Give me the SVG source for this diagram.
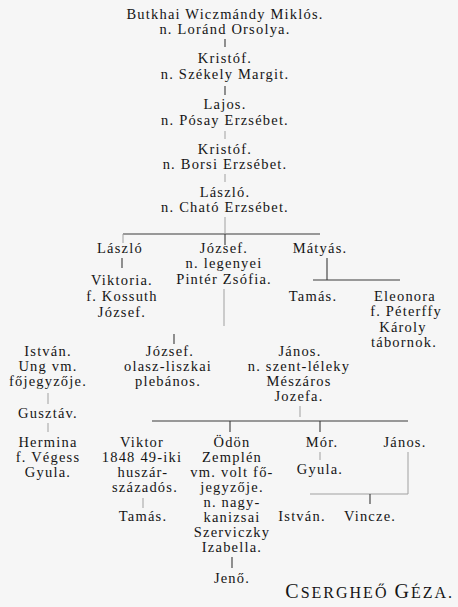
<svg xmlns="http://www.w3.org/2000/svg" width="458" height="607" viewBox="0 0 458 607">
<style>
text{font-family:"Liberation Serif","Times New Roman",serif;font-size:14.5px;letter-spacing:1.2px;fill:#151515;text-anchor:middle}
.c line{stroke:#3a3a3a;stroke-width:1.1}
.c .f{stroke:#a0a0a0;stroke-width:1}
.sig{font-size:16px;letter-spacing:2px;text-anchor:end}
.sig .big{font-size:20px}
</style>
<rect width="458" height="607" fill="#f6f6f6"/>
<g class="c" id="connectors">
<line x1="225" y1="39" x2="225" y2="47"/>
<line x1="225" y1="86" x2="225" y2="95"/>
<line class="f" x1="225" y1="131" x2="225" y2="139"/>
<line class="f" x1="225" y1="174" x2="225" y2="182"/>
<line class="f" x1="225" y1="217" x2="225" y2="233"/>
<line x1="123" y1="234" x2="320" y2="234"/>
<line x1="225" y1="234" x2="225" y2="245"/>
<line class="f" x1="123" y1="234" x2="123" y2="243"/>
<line x1="122" y1="258" x2="122" y2="268"/>
<line x1="327" y1="258" x2="327" y2="280"/>
<line x1="313" y1="280" x2="400" y2="280"/>
<line class="f" x1="224" y1="289" x2="224" y2="326"/>
<line x1="174" y1="334" x2="174" y2="344"/>
<line class="f" x1="48" y1="393" x2="48" y2="404"/>
<line class="f" x1="300" y1="406" x2="300" y2="417"/>
<line x1="152" y1="421" x2="408" y2="421"/>
<line x1="230" y1="421" x2="230" y2="432"/>
<line x1="320" y1="421" x2="320" y2="432"/>
<line class="f" x1="48" y1="423" x2="48" y2="432"/>
<line class="f" x1="320" y1="452" x2="320" y2="460"/>
<line class="f" x1="408" y1="452" x2="408" y2="494"/>
<line class="f" x1="310" y1="494" x2="408" y2="494"/>
<line x1="370" y1="494" x2="370" y2="504"/>
<line class="f" x1="143" y1="498" x2="143" y2="508"/>
<line x1="232" y1="557" x2="232" y2="568"/>
</g>
<g id="miklos"><text x="225" y="19">Butkhai Wiczmándy Miklós.</text><text x="225" y="34">n. Loránd Orsolya.</text></g>
<g id="kristof1"><text x="225" y="63">Kristóf.</text><text x="225" y="79">n. Székely Margit.</text></g>
<g id="lajos"><text x="225" y="109">Lajos.</text><text x="225" y="125">n. Pósay Erzsébet.</text></g>
<g id="kristof2"><text x="225" y="154">Kristóf.</text><text x="225" y="169">n. Borsi Erzsébet.</text></g>
<g id="laszlo1"><text x="225" y="197">László.</text><text x="225" y="212">n. Cható Erzsébet.</text></g>
<g id="laszlo2"><text x="120" y="253">László</text></g>
<g id="viktoria"><text x="122" y="285">Viktoria.</text><text x="122" y="301">f. Kossuth</text><text x="122" y="317">József.</text></g>
<g id="jozsef1"><text x="224" y="253">József.</text><text x="224" y="268">n. legenyei</text><text x="224" y="284">Pintér Zsófia.</text></g>
<g id="matyas"><text x="320" y="253">Mátyás.</text></g>
<g id="tamas1"><text x="313" y="301">Tamás.</text></g>
<g id="eleonora"><text x="405" y="301">Eleonora</text><text x="406" y="316">f. Péterffy</text><text x="403" y="332">Károly</text><text x="404" y="347">tábornok.</text></g>
<g id="istvan1"><text x="48" y="356">István.</text><text x="48" y="371">Ung vm.</text><text x="48" y="386">főjegyzője.</text></g>
<g id="gusztav"><text x="48" y="418">Gusztáv.</text></g>
<g id="hermina"><text x="48" y="447">Hermina</text><text x="48" y="462">f. Végess</text><text x="48" y="477">Gyula.</text></g>
<g id="jozsef2"><text x="170" y="356">József.</text><text x="168" y="371">olasz-liszkai</text><text x="168" y="386">plebános.</text></g>
<g id="janos1"><text x="300" y="356">János.</text><text x="299" y="371">n. szent-léleky</text><text x="299" y="386">Mészáros</text><text x="299" y="401">Jozefa.</text></g>
<g id="viktor"><text x="142" y="447">Viktor</text><text x="142" y="462">1848 49-iki</text><text x="143" y="477">huszár-</text><text x="145" y="492">századós.</text></g>
<g id="tamas2"><text x="143" y="521">Tamás.</text></g>
<g id="odon"><text x="232" y="447">Ödön</text><text x="232" y="462">Zemplén</text><text x="232" y="477">vm. volt fő-</text><text x="232" y="492">jegyzője.</text><text x="232" y="507">n. nagy-</text><text x="232" y="522">kanizsai</text><text x="232" y="537">Szerviczky</text><text x="232" y="552">Izabella.</text></g>
<g id="jeno"><text x="232" y="583">Jenő.</text></g>
<g id="mor"><text x="322" y="447">Mór.</text></g>
<g id="gyula2"><text x="320" y="474">Gyula.</text></g>
<g id="janos2"><text x="405" y="447">János.</text></g>
<g id="istvan2"><text x="302" y="521">István.</text></g>
<g id="vincze"><text x="370" y="521">Vincze.</text></g>
<text class="sig" x="454" y="598"><tspan class="big">C</tspan>SERGHEŐ <tspan class="big">G</tspan>ÉZA.</text>
</svg>
